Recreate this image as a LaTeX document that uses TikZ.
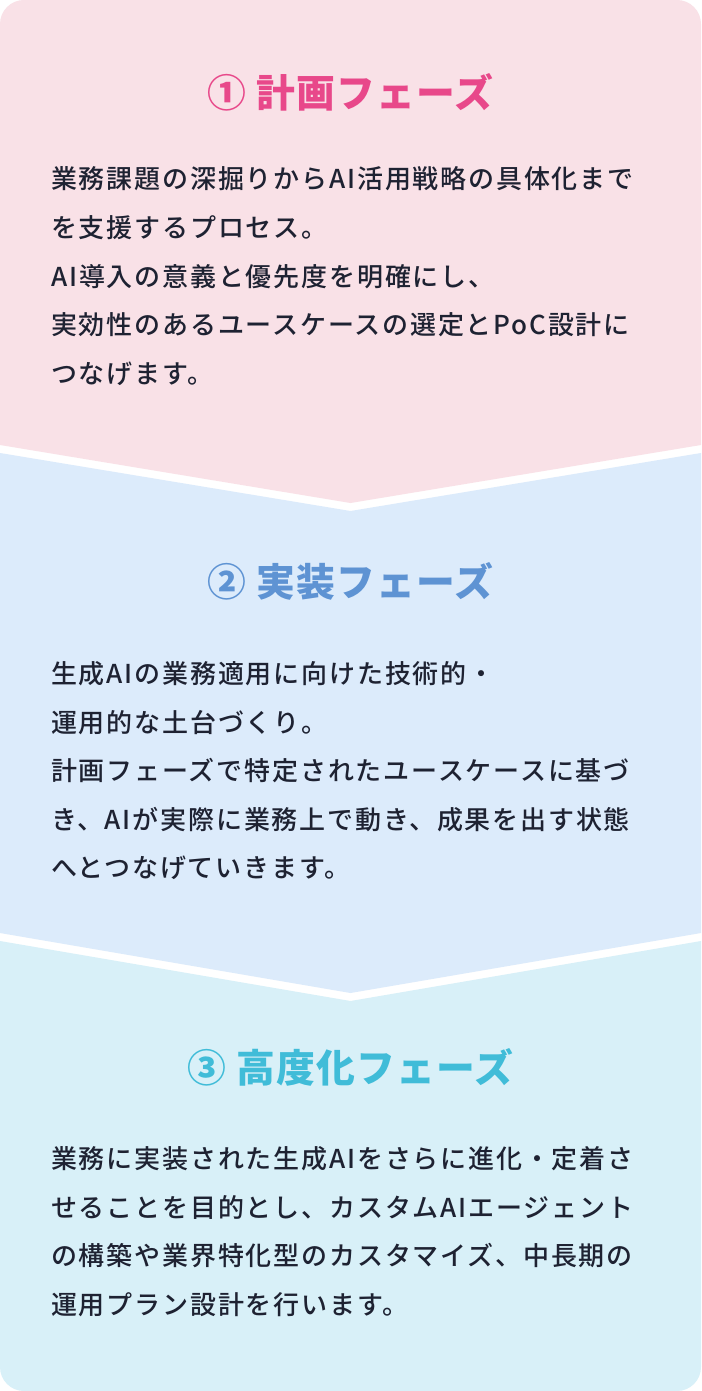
\documentclass[tikz,border=0pt]{standalone}
\usepackage{fontspec}
\setmainfont{Noto Sans CJK JP}
\newfontfamily\bodyfont[LetterSpace=7]{Noto Sans CJK JP Medium}
\newfontfamily\headfont[LetterSpace=3]{Noto Sans CJK JP}
\definecolor{planbg}{HTML}{F9E1E7}
\definecolor{buildbg}{HTML}{DCEBFB}
\definecolor{advbg}{HTML}{D8F0F8}
\definecolor{planhead}{HTML}{E8488A}
\definecolor{buildhead}{HTML}{5E93D3}
\definecolor{advhead}{HTML}{40BCD8}
\definecolor{ink}{HTML}{1E2232}
\begin{document}
\begin{tikzpicture}[x=1pt,y=-1pt,
        phasehead/.style={anchor=base,inner sep=0pt,font=\headfont\bfseries\fontsize{38.8}{38.8}\selectfont},
        phaseline/.style={anchor=base west,inner sep=0pt,text=ink,font=\bodyfont\fontsize{26}{26}\selectfont}]
    \useasboundingbox (0,0) rectangle (701,1391);
    \fill[white] (0,0) rectangle (701,1391);
    % three chevron panels inside one rounded card
    \begin{scope}
        \clip[rounded corners=24pt] (0,0) rectangle (701,1391);
        \fill[planbg] (0,0) -- (701,0) -- (701,445) -- (350.5,503) -- (0,445) -- cycle;
        \fill[buildbg] (0,453) -- (350.5,511) -- (701,453) -- (701,933) -- (350.5,993) -- (0,933) -- cycle;
        \fill[advbg] (0,941) -- (350.5,1001) -- (701,941) -- (701,1391) -- (0,1391) -- cycle;
    \end{scope}

    % phase 1
    \node[phasehead,text=planhead] (plan-title) at (350.5,107.8) {① 計画フェーズ};
    \foreach \n/\t in {0/業務課題の深掘りからAI活用戦略の具体化まで,
                       1/を支援するプロセス。,
                       2/AI導入の意義と優先度を明確にし、,
                       3/実効性のあるユースケースの選定とPoC設計に,
                       4/つなげます。}
        {\node[phaseline] (plan-\n) at (51,189+48.5*\n) {\t};}

    % phase 2
    \node[phasehead,text=buildhead] (build-title) at (350.5,596.8) {② 実装フェーズ};
    \foreach \n/\t in {0/生成AIの業務適用に向けた技術的・,
                       1/運用的な土台づくり。,
                       2/計画フェーズで特定されたユースケースに基づ,
                       3/き、AIが実際に業務上で動き、成果を出す状態,
                       4/へとつなげていきます。}
        {\node[phaseline] (build-\n) at (51,683.5+48.5*\n) {\t};}

    % phase 3
    \node[phasehead,text=advhead] (adv-title) at (350.5,1082.8) {③ 高度化フェーズ};
    \foreach \n/\t in {0/業務に実装された生成AIをさらに進化・定着さ,
                       1/せることを目的とし、カスタムAIエージェント,
                       2/の構築や業界特化型のカスタマイズ、中長期の,
                       3/運用プラン設計を行います。}
        {\node[phaseline] (adv-\n) at (51,1168.5+48.5*\n) {\t};}
\end{tikzpicture}
\end{document}
